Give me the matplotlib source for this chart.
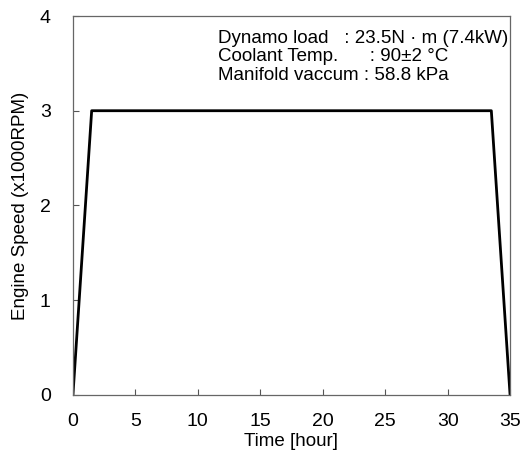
import matplotlib.pyplot as plt

plt.rcParams['font.family'] = ['Liberation Sans', 'DejaVu Sans']

# Engine speed profile during the test run
time_hour = [0, 1.5, 33.5, 35]
speed_krpm = [0, 3.0, 3.0, 0]

x_ticks = [0, 5, 10, 15, 20, 25, 30, 35]
y_ticks = [0, 1, 2, 3, 4]

fig = plt.figure(figsize=(5.21, 4.58), dpi=100)
ax = fig.add_axes([0.140, 0.138, 0.839, 0.827])

ax.plot(time_hour, speed_krpm, color='black', lw=2.0)

ax.set_xlim(0, 35)
ax.set_ylim(0, 4)
ax.set_xticks(x_ticks)
ax.set_yticks(y_ticks)
ax.tick_params(direction='in', length=4, width=0.8, color='#555555',
               labelsize=14)
ax.tick_params(axis='x', pad=13)
ax.tick_params(axis='y', pad=16)
for s in ax.spines.values():
    s.set_color('#666666')
    s.set_linewidth(0.9)

ax.set_xlabel('Time [hour]', fontsize=13.5, labelpad=2)
ax.set_ylabel('Engine Speed (x1000RPM)', fontsize=13.5, labelpad=8)

info = ('Dynamo load   : 23.5N \u00b7 m (7.4kW)\n'
        'Coolant Temp.      : 90\u00b12 \u00b0C\n'
        'Manifold vaccum : 58.8 kPa')
ax.text(0.332, 0.963, info, transform=ax.transAxes, fontsize=13.5,
        va='top', ha='left', linespacing=1.1)

fig.savefig('out.png', dpi=100)
